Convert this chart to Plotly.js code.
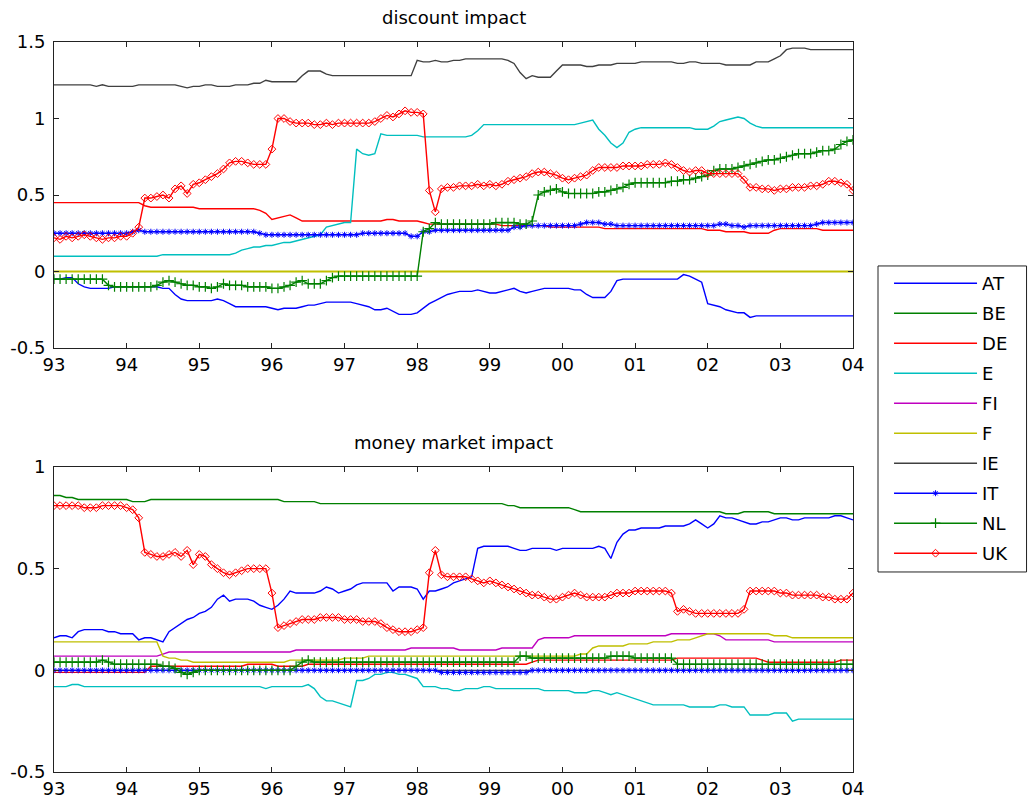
<!DOCTYPE html>
<html>
<head>
<meta charset="utf-8">
<script src="https://cdn.plot.ly/plotly-3.0.1.min.js"></script>
<style>html,body{margin:0;padding:0;background:#fff;}#chart{width:1028px;height:801px;}</style>
</head>
<body>
<div id="chart"></div>
<script>
// ---- categories: monthly observations Jan 1993 .. Jan 2004 ----
const startYear = 1993;
const nMonths = 133;
const months = [];
for (let i = 0; i < nMonths; i++) months.push(startYear + i / 12);

const xTickVals = [1993,1994,1995,1996,1997,1998,1999,2000,2001,2002,2003,2004];
const xTickText = ['93','94','95','96','97','98','99','00','01','02','03','04'];
const yTickValsTop = [-0.5,0,0.5,1,1.5];
const yTickTextTop = ['-0.5','0','0.5','1','1.5'];
const yTickValsBot = [-0.5,0,0.5,1];
const yTickTextBot = ['-0.5','0','0.5','1'];

const countries = ['AT','BE','DE','E','FI','F','IE','IT','NL','UK'];

// ---- discount impact (top panel) ----
const AT_disc = [
-0.05,-0.05,-0.04,-0.04,-0.08,-0.10,-0.11,-0.11,-0.11,-0.11,-0.10,-0.10,
-0.10,-0.10,-0.10,-0.10,-0.10,-0.10,-0.11,-0.11,-0.15,-0.18,-0.19,-0.19,
-0.19,-0.19,-0.19,-0.18,-0.19,-0.21,-0.23,-0.23,-0.23,-0.23,-0.23,-0.23,
-0.24,-0.25,-0.24,-0.24,-0.24,-0.23,-0.22,-0.22,-0.21,-0.20,-0.20,-0.20,
-0.20,-0.20,-0.21,-0.22,-0.23,-0.25,-0.25,-0.24,-0.26,-0.28,-0.28,-0.28,
-0.27,-0.24,-0.21,-0.19,-0.17,-0.15,-0.14,-0.13,-0.13,-0.13,-0.12,-0.13,
-0.14,-0.14,-0.13,-0.12,-0.11,-0.13,-0.14,-0.13,-0.12,-0.11,-0.11,-0.11,
-0.11,-0.11,-0.12,-0.12,-0.15,-0.17,-0.17,-0.17,-0.13,-0.06,-0.05,-0.05,
-0.05,-0.05,-0.05,-0.05,-0.05,-0.05,-0.05,-0.05,-0.02,-0.03,-0.05,-0.07,
-0.21,-0.22,-0.23,-0.25,-0.26,-0.27,-0.27,-0.30,-0.29,-0.29,-0.29,-0.29,
-0.29,-0.29,-0.29,-0.29,-0.29,-0.29,-0.29,-0.29,-0.29,-0.29,-0.29,-0.29,
-0.29];
const BE_disc = [
0,0,0,0,0,0,0,0,0,0,0,0, 0,0,0,0,0,0,0,0,0,0,0,0, 0,0,0,0,0,0,0,0,0,0,0,0,
0,0,0,0,0,0,0,0,0,0,0,0, 0,0,0,0,0,0,0,0,0,0,0,0, 0,0,0,0,0,0,0,0,0,0,0,0,
0,0,0,0,0,0,0,0,0,0,0,0, 0,0,0,0,0,0,0,0,0,0,0,0, 0,0,0,0,0,0,0,0,0,0,0,0,
0,0,0,0,0,0,0,0,0,0,0,0, 0,0,0,0,0,0,0,0,0,0,0,0, 0];
const DE_disc = [
0.45,0.45,0.45,0.45,0.45,0.45,0.45,0.45,0.45,0.45,0.45,0.45,
0.45,0.45,0.45,0.43,0.42,0.42,0.42,0.42,0.42,0.42,0.42,0.42,
0.41,0.41,0.41,0.41,0.41,0.41,0.41,0.41,0.41,0.41,0.40,0.38,
0.34,0.35,0.36,0.37,0.35,0.33,0.33,0.33,0.33,0.33,0.33,0.33,
0.33,0.33,0.33,0.33,0.33,0.33,0.33,0.34,0.34,0.33,0.33,0.33,
0.33,0.32,0.31,0.31,0.31,0.31,0.31,0.31,0.31,0.31,0.31,0.31,
0.31,0.31,0.30,0.30,0.30,0.30,0.30,0.30,0.30,0.30,0.29,0.29,
0.29,0.29,0.29,0.29,0.29,0.29,0.29,0.28,0.28,0.28,0.28,0.28,
0.28,0.28,0.28,0.28,0.28,0.28,0.28,0.28,0.28,0.28,0.28,0.28,
0.27,0.27,0.27,0.26,0.26,0.26,0.26,0.25,0.25,0.25,0.25,0.27,
0.28,0.28,0.28,0.28,0.28,0.28,0.28,0.27,0.27,0.27,0.27,0.27,
0.27];
const E_disc = [
0.10,0.10,0.10,0.10,0.10,0.10,0.10,0.10,0.10,0.10,0.10,0.10,
0.10,0.10,0.10,0.10,0.10,0.10,0.11,0.11,0.11,0.11,0.11,0.11,
0.11,0.11,0.11,0.11,0.11,0.11,0.12,0.14,0.15,0.16,0.16,0.17,
0.17,0.18,0.19,0.19,0.20,0.21,0.22,0.23,0.24,0.29,0.30,0.31,
0.32,0.32,0.80,0.77,0.76,0.77,0.90,0.89,0.89,0.89,0.89,0.89,
0.89,0.88,0.88,0.88,0.88,0.88,0.88,0.88,0.88,0.89,0.92,0.96,
0.96,0.96,0.96,0.96,0.96,0.96,0.96,0.96,0.96,0.96,0.96,0.96,
0.96,0.96,0.96,0.97,0.98,0.99,0.93,0.89,0.84,0.81,0.84,0.91,
0.93,0.94,0.94,0.94,0.94,0.94,0.94,0.94,0.94,0.94,0.93,0.93,
0.93,0.95,0.98,0.99,1.00,1.01,1.00,0.97,0.95,0.94,0.94,0.94,
0.94,0.94,0.94,0.94,0.94,0.94,0.94,0.94,0.94,0.94,0.94,0.94,
0.94];
const FI_disc = [
0,0,0,0,0,0,0,0,0,0,0,0, 0,0,0,0,0,0,0,0,0,0,0,0, 0,0,0,0,0,0,0,0,0,0,0,0,
0,0,0,0,0,0,0,0,0,0,0,0, 0,0,0,0,0,0,0,0,0,0,0,0, 0,0,0,0,0,0,0,0,0,0,0,0,
0,0,0,0,0,0,0,0,0,0,0,0, 0,0,0,0,0,0,0,0,0,0,0,0, 0,0,0,0,0,0,0,0,0,0,0,0,
0,0,0,0,0,0,0,0,0,0,0,0, 0,0,0,0,0,0,0,0,0,0,0,0, 0];
const F_disc = [
0,0,0,0,0,0,0,0,0,0,0,0, 0,0,0,0,0,0,0,0,0,0,0,0, 0,0,0,0,0,0,0,0,0,0,0,0,
0,0,0,0,0,0,0,0,0,0,0,0, 0,0,0,0,0,0,0,0,0,0,0,0, 0,0,0,0,0,0,0,0,0,0,0,0,
0,0,0,0,0,0,0,0,0,0,0,0, 0,0,0,0,0,0,0,0,0,0,0,0, 0,0,0,0,0,0,0,0,0,0,0,0,
0,0,0,0,0,0,0,0,0,0,0,0, 0,0,0,0,0,0,0,0,0,0,0,0, 0];
const IE_disc = [
1.22,1.22,1.22,1.22,1.22,1.22,1.22,1.21,1.22,1.21,1.21,1.21,
1.21,1.21,1.22,1.22,1.22,1.22,1.22,1.22,1.22,1.21,1.20,1.21,
1.21,1.22,1.22,1.21,1.21,1.21,1.22,1.22,1.22,1.23,1.23,1.25,
1.24,1.24,1.24,1.24,1.24,1.28,1.31,1.31,1.31,1.29,1.28,1.28,
1.28,1.28,1.28,1.28,1.28,1.28,1.28,1.28,1.28,1.28,1.28,1.28,
1.38,1.37,1.37,1.38,1.37,1.37,1.38,1.38,1.39,1.39,1.39,1.39,
1.39,1.39,1.39,1.38,1.36,1.30,1.26,1.28,1.27,1.27,1.27,1.31,
1.35,1.35,1.35,1.35,1.34,1.34,1.35,1.35,1.35,1.36,1.36,1.36,
1.36,1.37,1.37,1.37,1.37,1.37,1.37,1.36,1.36,1.37,1.37,1.36,
1.36,1.36,1.36,1.35,1.35,1.35,1.35,1.35,1.37,1.37,1.37,1.39,
1.41,1.45,1.46,1.46,1.46,1.45,1.45,1.45,1.45,1.45,1.45,1.45,
1.45];
const IT_disc = [
0.25,0.25,0.25,0.25,0.25,0.25,0.25,0.25,0.25,0.25,0.25,0.25,
0.25,0.26,0.27,0.26,0.26,0.26,0.26,0.26,0.26,0.26,0.26,0.26,
0.26,0.26,0.26,0.26,0.26,0.26,0.26,0.26,0.26,0.26,0.25,0.24,
0.24,0.24,0.24,0.24,0.24,0.24,0.24,0.24,0.24,0.24,0.24,0.24,
0.24,0.24,0.24,0.25,0.25,0.25,0.25,0.25,0.25,0.25,0.25,0.23,
0.23,0.26,0.26,0.27,0.27,0.27,0.27,0.27,0.27,0.27,0.27,0.27,
0.27,0.27,0.27,0.27,0.29,0.29,0.30,0.30,0.30,0.30,0.30,0.30,
0.30,0.30,0.30,0.31,0.32,0.32,0.32,0.31,0.31,0.30,0.30,0.30,
0.30,0.30,0.30,0.30,0.30,0.30,0.30,0.30,0.30,0.30,0.30,0.30,
0.30,0.30,0.31,0.31,0.30,0.30,0.29,0.30,0.30,0.30,0.30,0.30,
0.30,0.30,0.30,0.30,0.30,0.30,0.31,0.32,0.32,0.32,0.32,0.32,
0.32];
const NL_disc = [
-0.05,-0.05,-0.05,-0.05,-0.05,-0.05,-0.05,-0.05,-0.05,-0.09,-0.10,-0.10,
-0.10,-0.10,-0.10,-0.10,-0.10,-0.09,-0.07,-0.06,-0.07,-0.08,-0.09,-0.09,
-0.10,-0.10,-0.11,-0.10,-0.08,-0.09,-0.09,-0.09,-0.10,-0.10,-0.10,-0.10,
-0.11,-0.11,-0.10,-0.09,-0.07,-0.06,-0.08,-0.08,-0.08,-0.06,-0.04,-0.03,
-0.03,-0.03,-0.03,-0.03,-0.03,-0.03,-0.03,-0.03,-0.03,-0.03,-0.03,-0.03,
-0.03,0.26,0.28,0.32,0.31,0.31,0.31,0.31,0.31,0.31,0.31,0.31,
0.31,0.32,0.32,0.32,0.32,0.31,0.31,0.33,0.50,0.52,0.53,0.54,
0.52,0.51,0.51,0.51,0.51,0.51,0.52,0.52,0.53,0.54,0.55,0.57,
0.58,0.58,0.58,0.58,0.58,0.58,0.59,0.59,0.60,0.60,0.61,0.62,
0.63,0.66,0.67,0.67,0.67,0.68,0.69,0.70,0.71,0.72,0.73,0.73,
0.74,0.75,0.76,0.77,0.77,0.77,0.78,0.79,0.79,0.80,0.83,0.85,
0.86];
const UK_disc = [
0.22,0.21,0.23,0.22,0.23,0.24,0.23,0.22,0.21,0.22,0.22,0.23,
0.23,0.25,0.29,0.48,0.48,0.49,0.50,0.48,0.54,0.56,0.51,0.57,
0.58,0.60,0.62,0.64,0.67,0.71,0.72,0.72,0.71,0.70,0.70,0.70,
0.80,1.00,1.00,0.98,0.97,0.97,0.97,0.96,0.96,0.97,0.96,0.97,
0.97,0.97,0.97,0.97,0.97,0.98,1.00,1.02,1.01,1.03,1.05,1.04,
1.04,1.03,0.53,0.39,0.54,0.55,0.55,0.56,0.56,0.56,0.57,0.56,
0.57,0.56,0.57,0.59,0.60,0.61,0.62,0.64,0.65,0.65,0.64,0.63,
0.61,0.60,0.61,0.62,0.63,0.66,0.68,0.68,0.68,0.68,0.69,0.69,
0.69,0.69,0.70,0.70,0.70,0.71,0.70,0.68,0.66,0.65,0.66,0.66,
0.64,0.64,0.64,0.64,0.64,0.64,0.60,0.55,0.55,0.54,0.54,0.53,
0.54,0.54,0.55,0.55,0.55,0.56,0.56,0.57,0.59,0.59,0.58,0.57,
0.53];

// ---- money market impact (bottom panel) ----
const AT_mm = [
0.16,0.17,0.17,0.16,0.19,0.20,0.20,0.20,0.20,0.19,0.19,0.18,
0.18,0.18,0.15,0.16,0.16,0.15,0.14,0.19,0.21,0.23,0.25,0.26,
0.28,0.29,0.31,0.35,0.37,0.34,0.35,0.35,0.35,0.34,0.32,0.31,
0.30,0.32,0.35,0.39,0.38,0.38,0.38,0.38,0.39,0.41,0.40,0.38,
0.39,0.40,0.42,0.43,0.43,0.43,0.43,0.43,0.39,0.41,0.41,0.41,
0.40,0.35,0.39,0.39,0.40,0.41,0.43,0.44,0.45,0.46,0.60,0.61,
0.61,0.61,0.61,0.61,0.60,0.59,0.59,0.60,0.60,0.60,0.60,0.59,
0.60,0.60,0.60,0.60,0.60,0.60,0.61,0.60,0.55,0.63,0.67,0.69,
0.69,0.70,0.70,0.70,0.70,0.71,0.71,0.71,0.71,0.72,0.74,0.72,
0.70,0.72,0.76,0.75,0.75,0.74,0.73,0.72,0.72,0.73,0.73,0.74,
0.75,0.75,0.74,0.74,0.75,0.75,0.75,0.75,0.75,0.76,0.76,0.75,
0.74];
const BE_mm = [
0.86,0.86,0.85,0.85,0.84,0.84,0.84,0.84,0.84,0.84,0.84,0.84,
0.84,0.83,0.83,0.83,0.84,0.84,0.84,0.84,0.84,0.84,0.84,0.84,
0.84,0.84,0.84,0.84,0.84,0.84,0.84,0.84,0.84,0.84,0.84,0.84,
0.84,0.84,0.83,0.83,0.83,0.83,0.83,0.83,0.82,0.82,0.82,0.82,
0.82,0.82,0.82,0.82,0.82,0.82,0.82,0.82,0.82,0.82,0.82,0.82,
0.82,0.82,0.82,0.82,0.82,0.82,0.82,0.82,0.82,0.82,0.82,0.82,
0.82,0.82,0.82,0.81,0.81,0.80,0.80,0.80,0.80,0.80,0.80,0.80,
0.80,0.80,0.79,0.78,0.78,0.78,0.78,0.78,0.78,0.78,0.78,0.78,
0.78,0.78,0.78,0.78,0.78,0.78,0.78,0.78,0.78,0.78,0.78,0.78,
0.78,0.78,0.78,0.77,0.77,0.77,0.78,0.78,0.78,0.78,0.78,0.77,
0.77,0.77,0.77,0.77,0.77,0.77,0.77,0.77,0.77,0.77,0.77,0.77,
0.77];
const DE_mm = [
-0.01,-0.01,-0.01,-0.01,-0.01,-0.01,-0.01,-0.01,-0.01,-0.01,-0.01,-0.01,
-0.01,-0.01,-0.01,-0.01,0.02,0.02,0.02,0.02,0.02,0.02,0.02,0.02,
0.02,0.02,0.02,0.02,0.02,0.02,0.02,0.02,0.03,0.03,0.03,0.03,
0.03,0.02,0.02,0.02,0.02,0.02,0.03,0.03,0.03,0.03,0.03,0.03,
0.03,0.03,0.03,0.03,0.03,0.03,0.03,0.03,0.03,0.03,0.03,0.03,
0.03,0.03,0.03,0.03,0.03,0.03,0.03,0.03,0.03,0.03,0.03,0.03,
0.03,0.03,0.03,0.03,0.03,0.03,0.03,0.04,0.05,0.05,0.05,0.05,
0.05,0.05,0.05,0.05,0.05,0.05,0.05,0.05,0.05,0.05,0.05,0.05,
0.05,0.05,0.05,0.05,0.05,0.05,0.05,0.06,0.06,0.06,0.06,0.06,
0.06,0.06,0.06,0.06,0.06,0.06,0.06,0.06,0.06,0.05,0.04,0.04,
0.04,0.04,0.04,0.04,0.04,0.04,0.04,0.04,0.04,0.04,0.05,0.05,
0.05];
const E_mm = [
-0.08,-0.08,-0.08,-0.07,-0.07,-0.08,-0.08,-0.08,-0.08,-0.08,-0.08,-0.08,
-0.08,-0.08,-0.08,-0.08,-0.08,-0.08,-0.08,-0.08,-0.08,-0.08,-0.08,-0.08,
-0.08,-0.08,-0.08,-0.08,-0.08,-0.08,-0.08,-0.08,-0.08,-0.08,-0.08,-0.09,
-0.08,-0.08,-0.08,-0.08,-0.08,-0.08,-0.07,-0.09,-0.13,-0.15,-0.15,-0.16,
-0.17,-0.18,-0.05,-0.05,-0.04,-0.02,-0.02,-0.01,-0.01,-0.02,-0.02,-0.03,
-0.04,-0.08,-0.08,-0.08,-0.09,-0.09,-0.10,-0.10,-0.09,-0.09,-0.09,-0.08,
-0.08,-0.09,-0.09,-0.09,-0.09,-0.09,-0.09,-0.09,-0.09,-0.10,-0.10,-0.10,
-0.10,-0.10,-0.11,-0.11,-0.11,-0.10,-0.10,-0.11,-0.12,-0.11,-0.12,-0.13,
-0.14,-0.15,-0.16,-0.17,-0.17,-0.17,-0.17,-0.17,-0.17,-0.18,-0.18,-0.18,
-0.18,-0.18,-0.17,-0.17,-0.18,-0.18,-0.18,-0.22,-0.22,-0.22,-0.22,-0.21,
-0.21,-0.21,-0.25,-0.24,-0.24,-0.24,-0.24,-0.24,-0.24,-0.24,-0.24,-0.24,
-0.24];
const FI_mm = [
0.07,0.07,0.07,0.07,0.07,0.07,0.07,0.07,0.07,0.07,0.07,0.07,
0.07,0.07,0.07,0.07,0.07,0.07,0.08,0.09,0.09,0.09,0.09,0.09,
0.09,0.09,0.09,0.09,0.09,0.09,0.09,0.09,0.09,0.09,0.09,0.09,
0.09,0.09,0.09,0.09,0.10,0.10,0.10,0.10,0.10,0.10,0.10,0.10,
0.10,0.10,0.10,0.10,0.10,0.10,0.10,0.10,0.10,0.10,0.10,0.11,
0.11,0.11,0.11,0.11,0.11,0.11,0.11,0.10,0.10,0.10,0.10,0.10,
0.10,0.10,0.11,0.11,0.11,0.11,0.11,0.11,0.15,0.16,0.16,0.16,
0.16,0.16,0.17,0.17,0.17,0.17,0.17,0.17,0.17,0.17,0.17,0.17,
0.17,0.17,0.17,0.17,0.17,0.17,0.18,0.18,0.18,0.18,0.18,0.18,
0.18,0.18,0.17,0.15,0.15,0.15,0.15,0.15,0.15,0.15,0.15,0.14,
0.14,0.14,0.14,0.14,0.14,0.14,0.14,0.14,0.14,0.14,0.14,0.14,
0.14];
const F_mm = [
0.14,0.14,0.14,0.14,0.14,0.14,0.14,0.14,0.14,0.14,0.14,0.14,
0.14,0.14,0.14,0.14,0.14,0.14,0.07,0.06,0.06,0.05,0.05,0.04,
0.04,0.04,0.04,0.04,0.04,0.04,0.04,0.04,0.04,0.04,0.04,0.04,
0.04,0.04,0.04,0.05,0.05,0.05,0.05,0.05,0.05,0.05,0.05,0.05,
0.06,0.06,0.06,0.06,0.07,0.07,0.07,0.07,0.07,0.07,0.07,0.07,
0.07,0.07,0.07,0.07,0.07,0.07,0.07,0.07,0.07,0.07,0.07,0.07,
0.07,0.07,0.07,0.07,0.07,0.07,0.07,0.07,0.07,0.07,0.07,0.07,
0.07,0.07,0.07,0.08,0.08,0.11,0.12,0.12,0.12,0.12,0.12,0.13,
0.13,0.13,0.13,0.14,0.14,0.14,0.14,0.15,0.15,0.15,0.16,0.17,
0.18,0.18,0.18,0.18,0.18,0.18,0.18,0.18,0.18,0.18,0.18,0.17,
0.17,0.17,0.16,0.16,0.16,0.16,0.16,0.16,0.16,0.16,0.16,0.16,
0.16];
const IE_mm = [
0,0,0,0,0,0,0,0,0,0,0,0, 0,0,0,0,0,0,0,0,0,0,0,0, 0,0,0,0,0,0,0,0,0,0,0,0,
0,0,0,0,0,0,0,0,0,0,0,0, 0,0,0,0,0,0,0,0,0,0,0,0, 0,0,0,0,0,0,0,0,0,0,0,0,
0,0,0,0,0,0,0,0,0,0,0,0, 0,0,0,0,0,0,0,0,0,0,0,0, 0,0,0,0,0,0,0,0,0,0,0,0,
0,0,0,0,0,0,0,0,0,0,0,0, 0,0,0,0,0,0,0,0,0,0,0,0, 0];
const IT_mm = [
0,0,0,0,0,0,0,0,0,0,0,0, 0,0,0,0,0,0,0,0,0,0,0,0, 0,0,0,0,0,0,0,0,0,0,0,0,
0,0,0,0,0,0,0,0,0,0,0,0, 0,0,0,0,0,0,0,0,0,0,0,0,
0,0,0,0,-0.01,-0.01,-0.01,-0.01,-0.01,-0.01,-0.01,-0.01,
-0.01,-0.01,-0.01,-0.01,-0.01,-0.01,-0.01,0,0,0,0,0,
0,0,0,0,0,0,0,0,0,0,0,0, 0,0,0,0,0,0,0,0,0,0,0,0,
0,0,0,0,0,0,0,0,0,0,0,0, 0,0,0,0,0,0,0,0,0,0,0,0, 0];
const NL_mm = [
0.04,0.04,0.04,0.04,0.04,0.04,0.04,0.04,0.05,0.04,0.03,0.03,
0.03,0.03,0.03,0.03,0.03,0.03,0.02,0.02,0.01,-0.01,-0.02,-0.01,
0.00,0.00,0.00,0.00,0.00,0.00,0.00,0.00,0.00,0.00,0.00,0.00,
0.00,0.00,0.00,0.00,0.02,0.04,0.05,0.04,0.04,0.04,0.04,0.04,
0.04,0.04,0.04,0.04,0.04,0.04,0.04,0.04,0.04,0.04,0.04,0.04,
0.04,0.04,0.04,0.04,0.04,0.04,0.04,0.04,0.04,0.04,0.04,0.04,
0.04,0.04,0.04,0.04,0.04,0.07,0.07,0.06,0.06,0.06,0.06,0.06,
0.06,0.06,0.06,0.06,0.06,0.06,0.06,0.06,0.07,0.07,0.07,0.07,
0.06,0.06,0.06,0.06,0.06,0.06,0.06,0.03,0.03,0.03,0.03,0.03,
0.03,0.03,0.03,0.03,0.03,0.03,0.03,0.03,0.03,0.03,0.03,0.03,
0.03,0.03,0.03,0.03,0.03,0.03,0.03,0.03,0.03,0.03,0.03,0.03,
0.03];
const UK_mm = [
0.81,0.81,0.81,0.81,0.81,0.80,0.80,0.80,0.81,0.81,0.81,0.81,
0.80,0.79,0.75,0.58,0.57,0.56,0.56,0.57,0.58,0.56,0.59,0.52,
0.57,0.56,0.52,0.50,0.48,0.47,0.48,0.49,0.50,0.50,0.50,0.50,
0.38,0.21,0.22,0.23,0.24,0.25,0.25,0.25,0.26,0.26,0.26,0.26,
0.25,0.25,0.25,0.24,0.24,0.24,0.23,0.21,0.20,0.19,0.19,0.19,
0.20,0.21,0.48,0.59,0.47,0.46,0.46,0.46,0.46,0.45,0.44,0.43,
0.44,0.43,0.42,0.41,0.40,0.39,0.38,0.37,0.37,0.36,0.35,0.35,
0.36,0.37,0.38,0.37,0.36,0.36,0.36,0.36,0.37,0.38,0.38,0.38,
0.39,0.39,0.39,0.39,0.39,0.39,0.38,0.29,0.30,0.29,0.28,0.28,
0.28,0.28,0.28,0.28,0.28,0.28,0.30,0.39,0.39,0.39,0.39,0.39,
0.38,0.38,0.37,0.37,0.37,0.37,0.37,0.36,0.36,0.35,0.35,0.35,
0.38];

const discSeries = [AT_disc,BE_disc,DE_disc,E_disc,FI_disc,F_disc,IE_disc,IT_disc,NL_disc,UK_disc];
const mmSeries   = [AT_mm,BE_mm,DE_mm,E_mm,FI_mm,F_mm,IE_mm,IT_mm,NL_mm,UK_mm];

// ---- styles ----
const colors = ['#0000ff','#008000','#ff0000','#00bfbf','#bf00bf','#bfbf00','#404040','#0000ff','#008000','#ff0000'];
const markerStyles = {
  IT: {symbol:'asterisk-open', size:5, line:{width:1}},
  NL: {symbol:'cross-thin-open', size:7, line:{width:1.2}},
  UK: {symbol:'diamond-open', size:6, line:{width:1}}
};
const FONT = 'DejaVu Sans, Arial, sans-serif';

function makeTrace(name, i, y, xa, ya, legend, width) {
  const ms = markerStyles[name];
  const t = {
    x: months, y: y, name: name, xaxis: xa, yaxis: ya,
    type: 'scatter', mode: ms ? 'lines+markers' : 'lines',
    line: {color: colors[i], width: width},
    legendgroup: name, showlegend: legend, hoverinfo: 'x+y+name'
  };
  if (ms) t.marker = Object.assign({color: colors[i]}, ms, {line: Object.assign({color: colors[i]}, ms.line)});
  return t;
}

const data = [];
// top panel: BE and FI coincide with F on the zero line, F drawn wider on top
countries.forEach((c, i) => data.push(makeTrace(c, i, discSeries[i], 'x', 'y', false,
  c === 'F' ? 2 : (c === 'BE' || c === 'FI' ? 1 : 1.4))));
// legend entries come from the bottom-panel traces (uniform line widths)
countries.forEach((c, i) => data.push(makeTrace(c, i, mmSeries[i], 'x2', 'y2', true, 1.4)));

function axisBase() {
  return {
    showline: true, linecolor: '#222', linewidth: 1, mirror: 'ticks',
    ticks: 'inside', ticklen: 5, tickcolor: '#222', tickwidth: 1,
    showgrid: false, zeroline: false,
    tickfont: {family: FONT, size: 18, color: '#000'}
  };
}
const xa = Object.assign(axisBase(), {domain:[0,1], anchor:'y', range:[1993,2004], tickmode:'array', tickvals:xTickVals, ticktext:xTickText});
const ya = Object.assign(axisBase(), {domain:[0.5808,1], anchor:'x', range:[-0.5,1.5], tickmode:'array', tickvals:yTickValsTop, ticktext:yTickTextTop, ticklabelstandoff: 4});
const xa2 = Object.assign(axisBase(), {domain:[0,1], anchor:'y2', range:[1993,2004], tickmode:'array', tickvals:xTickVals, ticktext:xTickText});
const ya2 = Object.assign(axisBase(), {domain:[0,0.4178], anchor:'x2', range:[-0.5,1], tickmode:'array', tickvals:yTickValsBot, ticktext:yTickTextBot, ticklabelstandoff: 4});

const layout = {
  width: 1028, height: 801,
  margin: {l:54, r:175, t:42, b:29, pad:0},
  paper_bgcolor: '#fff', plot_bgcolor: '#fff',
  font: {family: FONT, size: 18, color: '#000'},
  xaxis: xa, yaxis: ya, xaxis2: xa2, yaxis2: ya2,
  showlegend: true,
  legend: {
    x: 1.0451, xanchor: 'left', y: 0.6945, yanchor: 'top',
    bgcolor: 'rgba(0,0,0,0)', borderwidth: 0,
    font: {family: FONT, size: 18, color: '#000'},
    itemwidth: 83, tracegroupgap: 3.6, traceorder: 'grouped',
    itemclick: false, itemdoubleclick: false
  },
  shapes: [{
    type: 'rect', xref: 'paper', yref: 'paper',
    x0: 1.0313, x1: 1.2172, y0: 0.274, y1: 0.6932,
    line: {color: '#222', width: 1}, fillcolor: 'rgba(0,0,0,0)'
  }],
  annotations: [
    {text: 'discount impact', xref: 'paper', yref: 'paper', x: 0.5, y: 1.033, xanchor: 'center', yanchor: 'middle', showarrow: false, font: {family: FONT, size: 18, color: '#000'}},
    {text: 'money market impact', xref: 'paper', yref: 'paper', x: 0.5, y: 0.4507, xanchor: 'center', yanchor: 'middle', showarrow: false, font: {family: FONT, size: 18, color: '#000'}}
  ]
};

Plotly.newPlot('chart', data, layout, {staticPlot: true, displayModeBar: false});
</script>
</body>
</html>
